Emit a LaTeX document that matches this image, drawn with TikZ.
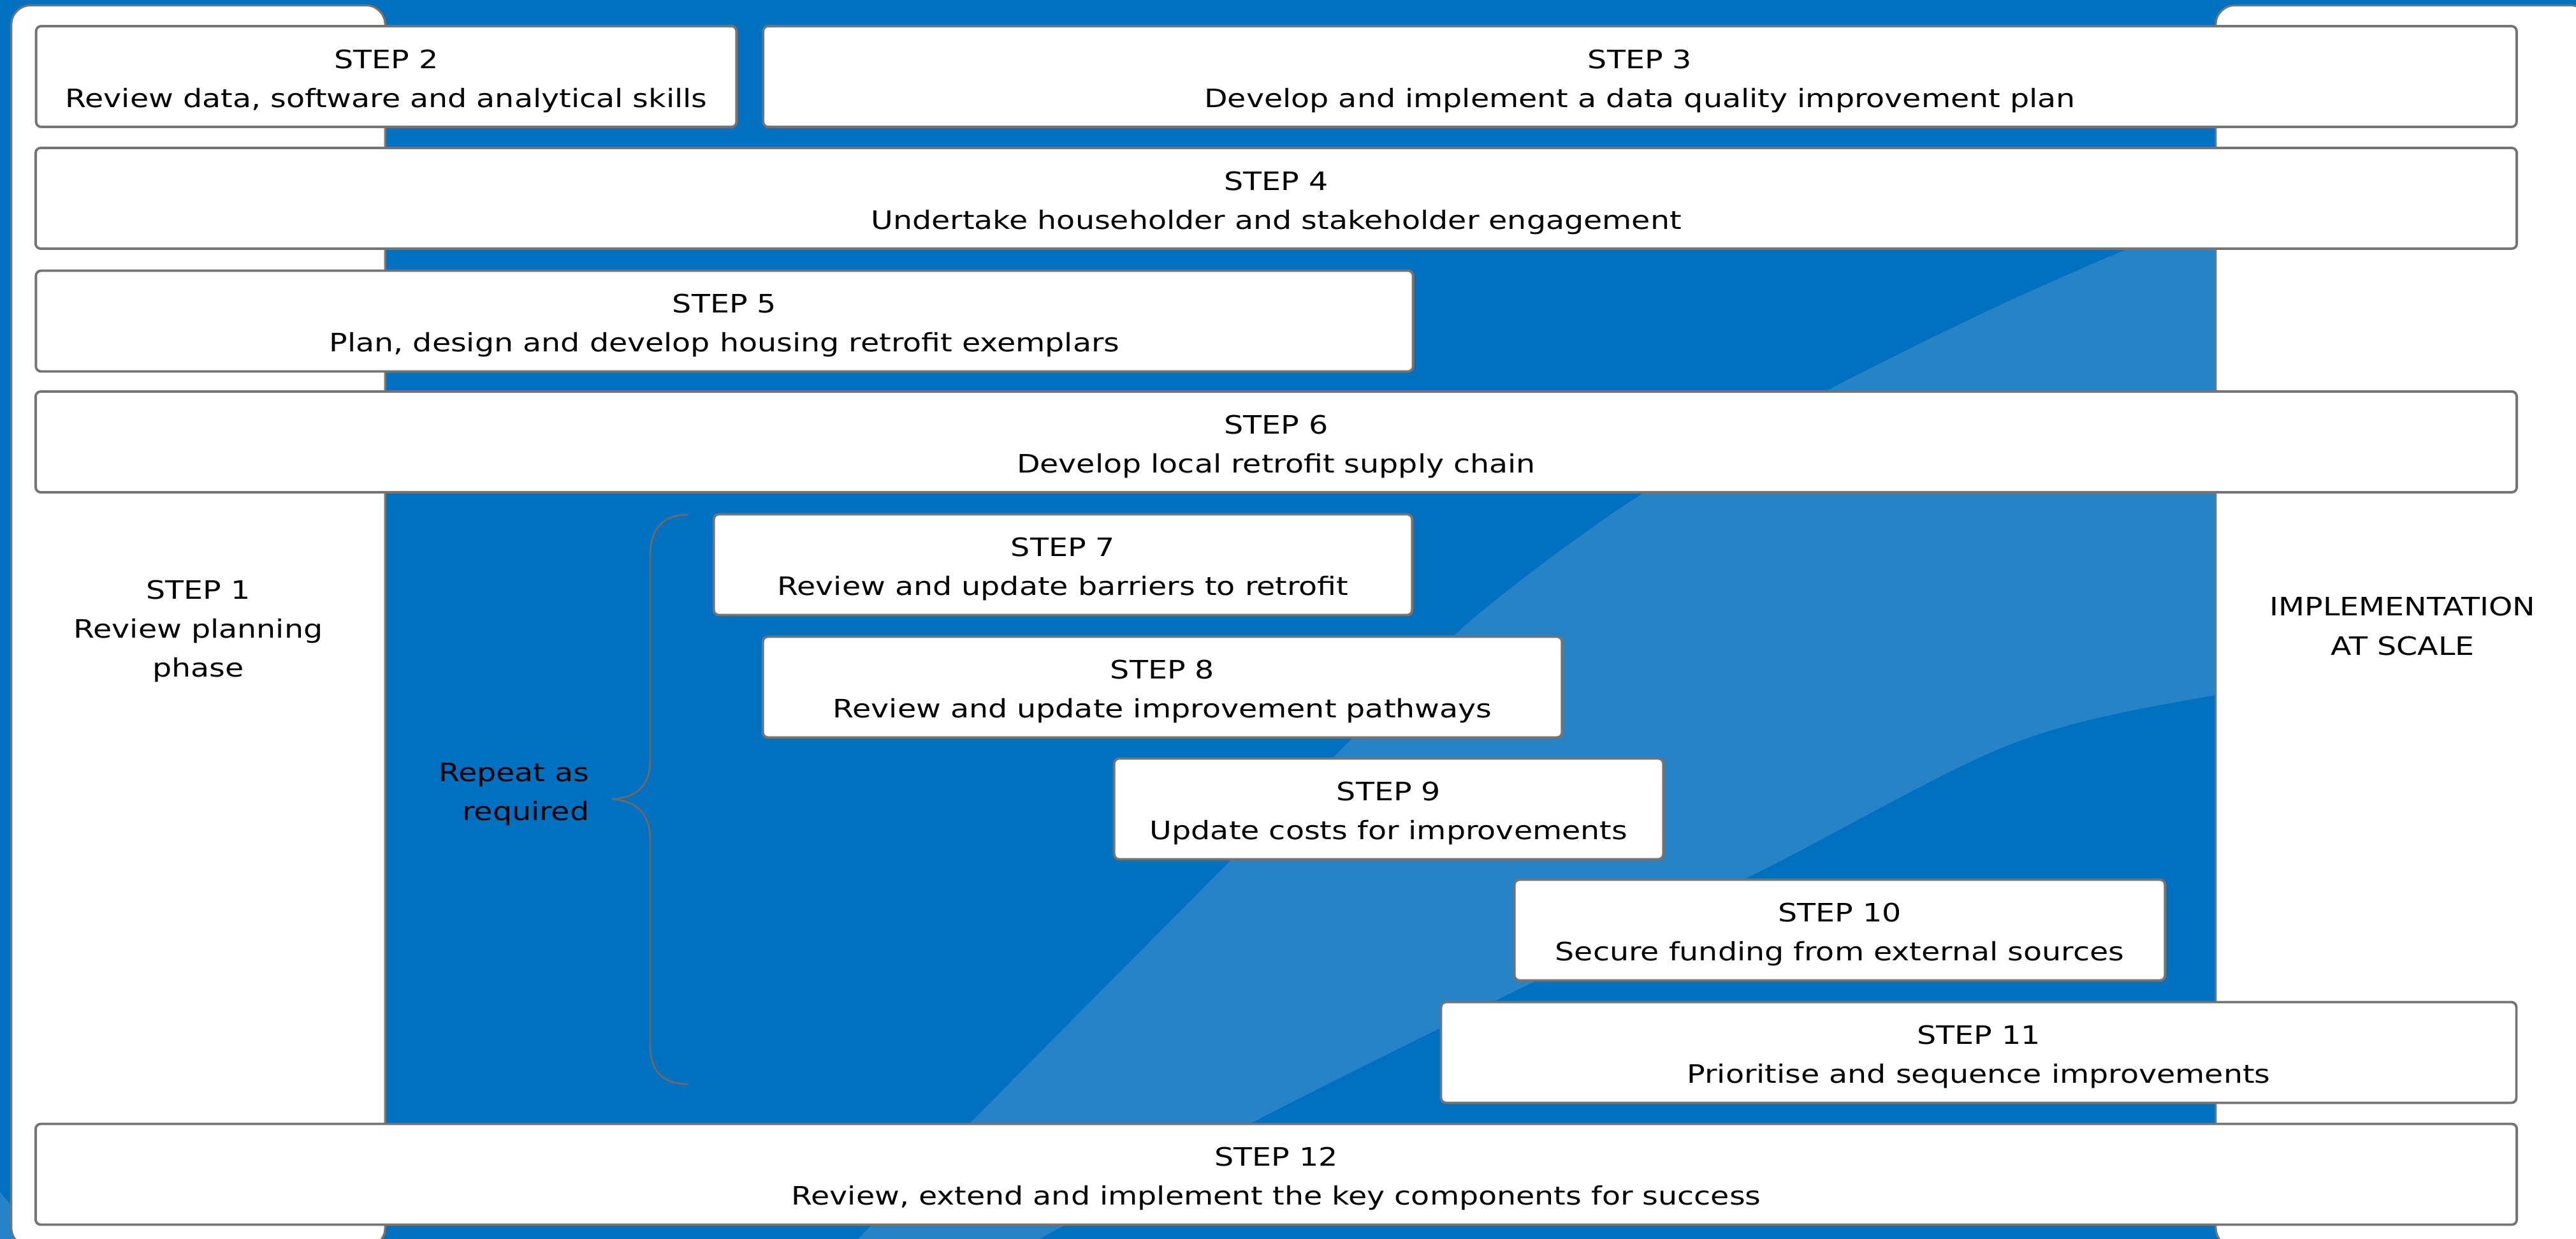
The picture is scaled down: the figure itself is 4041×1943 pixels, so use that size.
\documentclass[tikz,border=0pt]{standalone}
\usepackage{fontspec}
\setmainfont{DejaVu Sans}[FakeStretch=1.195]
\definecolor{bgblue}{HTML}{0070C0}
\definecolor{swoosh}{HTML}{2683C6}
\definecolor{edgegray}{HTML}{747474}
\definecolor{bracegray}{HTML}{6A6A6A}
% two-line step caption, nudged down a little inside its box
\newcommand\steptext[2]{\rule{0pt}{12.5pt}STEP #1\\#2}
\begin{document}
\begin{tikzpicture}[x=0.01cm,y=-0.01cm,
  txt/.style={font=\fontsize{11.3}{17.4}\selectfont, align=center},
  stepbox/.style={txt, draw=edgegray, line width=1.1pt, fill=white,
    rounded corners=0.08cm, inner sep=0pt, minimum height=1.58cm},
  panel/.style={txt, draw=edgegray, line width=0.9pt, fill=white,
    rounded corners=0.3cm, inner sep=0pt, minimum width=5.86cm, minimum height=19.46cm},
  plaintext/.style={txt, inner sep=0pt}]
\useasboundingbox (0,0) rectangle (4041,1943);
\begin{scope}
  \clip (0,0) rectangle (4041,1943);
  % background and light swoosh
  \fill[bgblue] (0,0) rectangle (4041,1943);
  \fill[swoosh] plot[smooth] coordinates {(1330,1960) (1525,1758) (1922,1358) (2107,1172)
      (2311,970) (2575,775) (2890,600) (3200,450) (3500,330) (4100,150)}
    -- plot[smooth] coordinates {(4100,1000) (3476,1090) (3152,1168) (2764,1365)
      (2375,1555) (1969,1758) (1600,1960)} -- cycle;
  \fill[swoosh] (0,1870) -- (80,1960) -- (0,1960) -- cycle;
  % side panels
  \node[panel] (p1) at (311,982) {\rule{0pt}{13pt}STEP 1\\Review planning\\phase};
  \node[panel] (pr) at (3769,982) {IMPLEMENTATION\\AT SCALE};
\end{scope}

% steps
\node[stepbox, minimum width=10.98cm] (s2) at (606,120) {\steptext{2}{Review data, software and analytical skills}};
\node[stepbox, minimum width=27.49cm] (s3) at (2572.5,120) {\steptext{3}{Develop and implement a data quality improvement plan}};
\node[stepbox, minimum width=38.90cm] (s4) at (2002,311) {\steptext{4}{Undertake householder and stakeholder engagement}};
\node[stepbox, minimum width=21.59cm] (s5) at (1136.5,503.5) {\steptext{5}{Plan, design and develop housing retrofit exemplars}};
\node[stepbox, minimum width=38.90cm] (s6) at (2002,693) {\steptext{6}{Develop local retrofit supply chain}};
\node[stepbox, minimum width=10.95cm] (s7) at (1667.5,885.5) {\steptext{7}{Review and update barriers to retrofit}};
\node[stepbox, minimum width=12.53cm] (s8) at (1823.5,1077.5) {\steptext{8}{Review and update improvement pathways}};
\node[stepbox, minimum width=8.61cm] (s9) at (2178.5,1268.5) {\steptext{9}{Update costs for improvements}};
\node[stepbox, minimum width=10.20cm] (s10) at (2886,1458.5) {\steptext{10}{Secure funding from external sources}};
\node[stepbox, minimum width=16.86cm] (s11) at (3104,1650.5) {\steptext{11}{Prioritise and sequence improvements}};
\node[stepbox, minimum width=38.90cm] (s12) at (2002,1841.5) {\steptext{12}{Review, extend and implement the key components for success}};

% repeat brace
\draw[bracegray, line width=0.8pt] (1080,807) .. controls (1040,807) and (1020,830) .. (1020,870)
  -- (1020,1190) .. controls (1020,1232) and (1000,1251) .. (959,1253)
  .. controls (1000,1256) and (1020,1276) .. (1020,1318)
  -- (1020,1640) .. controls (1020,1680) and (1040,1700) .. (1080,1700);
\node[plaintext, align=right, anchor=east] (rep) at (925,1246) {Repeat as\\required};
\end{tikzpicture}
\end{document}
